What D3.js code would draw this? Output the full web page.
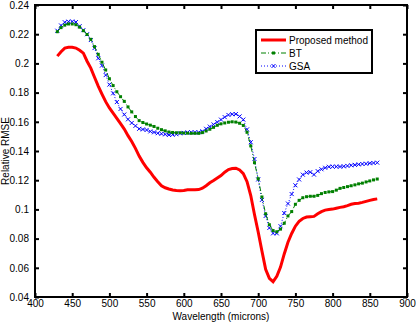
<!DOCTYPE html>
<html>
<head>
<meta charset="utf-8">
<script src="https://cdn.jsdelivr.net/npm/d3@7"></script>
<style>
  body { margin: 0; background: #fff; }
  text { font-family: "Liberation Sans", Arial, sans-serif; }
</style>
</head>
<body>
<div id="chart"></div>
<script>
// wavelengths (x) and the three error curves
const wavelength = [430,435,440,445,450,455,460,465,470,475,480,485,490,495,500,505,510,515,520,525,
  530,535,540,545,550,555,560,565,570,575,580,585,590,595,600,605,610,615,620,625,
  630,635,640,645,650,655,660,665,670,675,680,685,690,695,700,705,710,715,720,725,
  730,735,740,745,750,755,760,765,770,775,780,785,790,795,800,805,810,815,820,825,
  830,835,840,845,850,855,860]

const proposed = [0.205,0.208,0.2105,0.211,0.211,0.2105,0.209,0.207,0.2015,0.1968,0.1905,0.1845,0.179,0.1738,0.1695,0.166,0.1624,0.1588,0.155,0.1505,
  0.1465,0.1418,0.1365,0.1322,0.1285,0.1255,0.122,0.119,0.1162,0.1148,0.114,0.1133,0.1129,0.1128,0.1129,0.1134,0.1134,0.1134,0.1136,0.1145,
  0.1162,0.1182,0.1198,0.1215,0.1232,0.1255,0.1273,0.128,0.1282,0.127,0.1245,0.119,0.1095,0.0965,0.0845,0.0715,0.059,0.0528,0.0505,0.0542,
  0.0605,0.0695,0.0775,0.0835,0.0885,0.0918,0.0938,0.0948,0.095,0.0952,0.097,0.0985,0.0995,0.0999,0.1002,0.1008,0.1014,0.1018,0.1026,0.1035,
  0.104,0.1042,0.1048,0.1055,0.1062,0.1068,0.1072]

const bt = [0.2217,0.2245,0.2262,0.227,0.227,0.2265,0.2248,0.2224,0.2198,0.2165,0.2115,0.2062,0.2008,0.1955,0.1895,0.1848,0.1806,0.1772,0.174,0.1702,
  0.1668,0.1636,0.1608,0.1595,0.1585,0.1577,0.1568,0.1556,0.1546,0.1538,0.153,0.1527,0.1525,0.1525,0.1523,0.1522,0.1521,0.1521,0.1521,0.1526,
  0.1537,0.1549,0.1562,0.1576,0.1586,0.1592,0.1597,0.16,0.1598,0.159,0.1575,0.1528,0.1435,0.132,0.121,0.1085,0.097,0.0895,0.0855,0.0847,
  0.0865,0.0905,0.0955,0.0985,0.1035,0.1062,0.108,0.1087,0.109,0.109,0.1096,0.1108,0.1116,0.112,0.1122,0.1132,0.1144,0.115,0.1156,0.1162,
  0.1168,0.1175,0.118,0.1188,0.1195,0.1202,0.1208]

const gsa = [0.2224,0.226,0.2282,0.2286,0.2287,0.2283,0.2255,0.2228,0.22,0.216,0.2105,0.2035,0.1985,0.192,0.1855,0.1795,0.1735,0.1688,0.165,0.1617,
  0.1592,0.1572,0.1552,0.1548,0.1544,0.1534,0.1528,0.1522,0.1518,0.1514,0.151,0.1512,0.1515,0.1521,0.1524,0.1527,0.1528,0.1528,0.1528,0.1535,
  0.1552,0.1567,0.1582,0.1598,0.1615,0.1632,0.1647,0.1652,0.1653,0.1637,0.1615,0.1548,0.146,0.1345,0.1205,0.1065,0.0955,0.0873,0.0836,0.0836,
  0.0885,0.0975,0.104,0.1105,0.1165,0.1205,0.1238,0.1252,0.1255,0.1238,0.1262,0.1275,0.1285,0.1292,0.1293,0.1293,0.1293,0.1295,0.1298,0.1302,
  0.1305,0.1308,0.1311,0.1313,0.1316,0.1318,0.132]

const xTicks = [400,450,500,550,600,650,700,750,800,850,900]
const yTicks = [0.04,0.06,0.08,0.1,0.12,0.14,0.16,0.18,0.2,0.22,0.24]
const seriesNames = ["Proposed method", "BT", "GSA"]

var width = 416, height = 322
// plot box (note: "top" is taken by window.top, so use other names)
var pLeft = 35, pRight = 407, pTop = 5, pBottom = 297

var svg = d3.select("#chart").append("svg")
  .attr("width", width)
  .attr("height", height)

var x = d3.scaleLinear().domain([400, 900]).range([pLeft, pRight])
var y = d3.scaleLinear().domain([0.04, 0.24]).range([pBottom, pTop])

// axes, ticks pointing inward like matlab
var fmt = d3.format("")
function styleAxis(g) {
  g.select(".domain").remove()
  g.selectAll(".tick line").attr("stroke", "#000").attr("stroke-width", 2)
  g.selectAll(".tick text").style("font-size", "10px").attr("fill", "#000")
}
svg.append("g")
  .attr("transform", "translate(0," + pBottom + ")")
  .call(d3.axisBottom(x).tickValues(xTicks).tickSizeInner(-4).tickSizeOuter(0).tickPadding(3).tickFormat(fmt))
  .call(styleAxis)
svg.append("g")
  .attr("transform", "translate(0," + pTop + ")")
  .call(d3.axisTop(x).tickValues(xTicks).tickSizeInner(-4).tickSizeOuter(0).tickFormat(""))
  .call(styleAxis)
svg.append("g")
  .attr("transform", "translate(" + pLeft + ",0)")
  .call(d3.axisLeft(y).tickValues(yTicks).tickSizeInner(-4).tickSizeOuter(0).tickPadding(6).tickFormat(fmt))
  .call(styleAxis)
svg.append("g")
  .attr("transform", "translate(" + pRight + ",0)")
  .call(d3.axisRight(y).tickValues(yTicks).tickSizeInner(-4).tickSizeOuter(0).tickFormat(""))
  .call(styleAxis)

svg.append("rect")
  .attr("x", pLeft).attr("y", pTop)
  .attr("width", pRight - pLeft).attr("height", pBottom - pTop)
  .attr("fill", "none").attr("stroke", "#000").attr("stroke-width", 2)

// axis titles
svg.append("text")
  .attr("x", (pLeft + pRight) / 2).attr("y", 320)
  .attr("text-anchor", "middle").style("font-size", "10px")
  .text("Wavelength (microns)")
svg.append("text")
  .attr("transform", "translate(9," + ((pTop + pBottom) / 2) + ")rotate(-90)")
  .attr("text-anchor", "middle").style("font-size", "10px")
  .text("Relative RMSE")

var line = d3.line()
  .x(function(d, i) { return x(wavelength[i]) })
  .y(function(d) { return y(d) })

// GSA - blue dotted with x markers
svg.append("path").datum(gsa)
  .attr("d", line).attr("fill", "none")
  .attr("stroke", "#0000ff").attr("stroke-width", 1).attr("stroke-dasharray", "1,2")
svg.selectAll(".gsaMark").data(gsa).enter().append("path")
  .attr("class", "gsaMark")
  .attr("transform", function(d, i) { return "translate(" + x(wavelength[i]) + "," + y(d) + ")" })
  .attr("d", "M-2,-2L2,2M-2,2L2,-2")
  .attr("stroke", "#0000ff").attr("stroke-width", 1).attr("fill", "none")

// BT - green dash-dot with dot markers
svg.append("path").datum(bt)
  .attr("d", line).attr("fill", "none")
  .attr("stroke", "#008000").attr("stroke-width", 1).attr("stroke-dasharray", "5,2,1,2")
svg.selectAll(".btMark").data(bt).enter().append("rect")
  .attr("class", "btMark")
  .attr("x", function(d, i) { return x(wavelength[i]) - 1.5 })
  .attr("y", function(d) { return y(d) - 1.5 })
  .attr("width", 3).attr("height", 3)
  .attr("fill", "#008000")

// proposed - thick red
svg.append("path").datum(proposed)
  .attr("d", line).attr("fill", "none")
  .attr("stroke", "#ff0000").attr("stroke-width", 3)

// legend
var lg = svg.append("g")
lg.append("rect")
  .attr("x", 256).attr("y", 30).attr("width", 116).attr("height", 43)
  .attr("fill", "#fff").attr("stroke", "#000").attr("stroke-width", 2)
var rows = [40, 53, 66]
lg.append("line").attr("x1", 261).attr("x2", 286).attr("y1", rows[0]).attr("y2", rows[0])
  .attr("stroke", "#ff0000").attr("stroke-width", 3)
lg.append("line").attr("x1", 261).attr("x2", 286).attr("y1", rows[1]).attr("y2", rows[1])
  .attr("stroke", "#008000").attr("stroke-width", 1).attr("stroke-dasharray", "5,2,1,2")
lg.append("rect").attr("x", 272).attr("y", rows[1] - 1.5).attr("width", 3).attr("height", 3).attr("fill", "#008000")
lg.append("line").attr("x1", 261).attr("x2", 286).attr("y1", rows[2]).attr("y2", rows[2])
  .attr("stroke", "#0000ff").attr("stroke-width", 1).attr("stroke-dasharray", "1,2")
lg.append("path").attr("transform", "translate(273.5," + rows[2] + ")")
  .attr("d", "M-2,-2L2,2M-2,2L2,-2").attr("stroke", "#0000ff").attr("fill", "none")
lg.selectAll(".lgText").data(seriesNames).enter().append("text")
  .attr("x", 289).attr("y", function(d, i) { return rows[i] + 3.5 })
  .style("font-size", "10px")
  .text(function(d) { return d })
</script>
</body>
</html>
